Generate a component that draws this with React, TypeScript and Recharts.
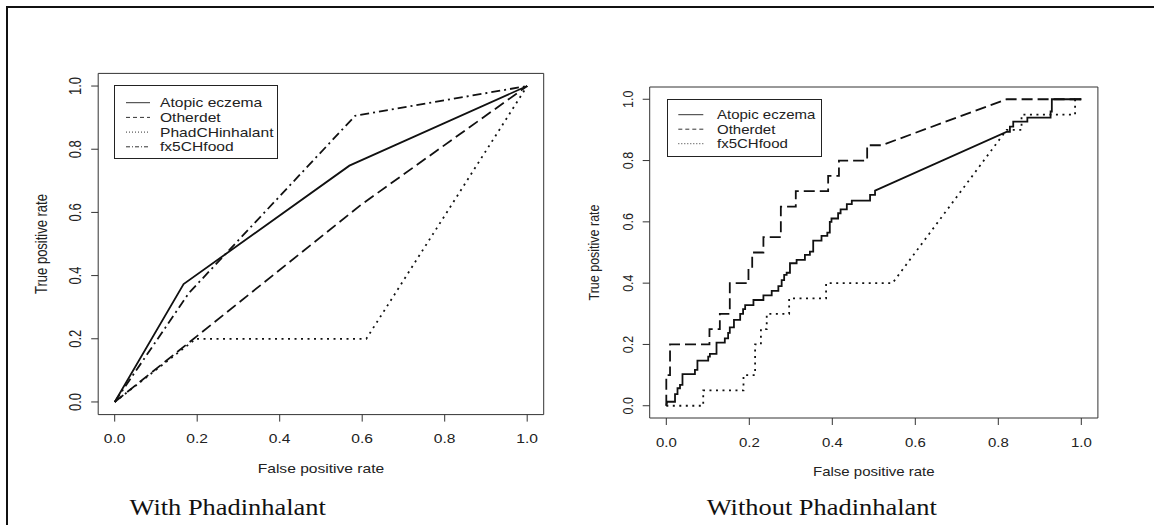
import React from "react";
import { LineChart, Line, XAxis, YAxis, ReferenceArea, Legend } from "recharts";

const SANS = "'Liberation Sans', Arial, Helvetica, sans-serif";
const SERIF = "'Liberation Serif', 'Times New Roman', serif";
const INK = "#111";
const TEXT = "#222";

// shared axis setup (R pads the range by 4% on each side)
const tickValues = [0, 0.2, 0.4, 0.6, 0.8, 1];
const axisDomain: [number, number] = [-0.04, 1.04];

// ---- With Phadinhalant: [false positive rate, true positive rate] ----
const withAtopic: [number, number][] = [[0, 0], [0.167, 0.373], [0.569, 0.748], [1, 1]];
const withOtherdet: [number, number][] = [[0, 0], [0.597, 0.624], [1, 1]];
const withPhad: [number, number][] = [[0, 0], [0.197, 0.2], [0.61, 0.2], [1, 1]];
const withFood: [number, number][] = [[0, 0], [0.18, 0.345], [0.583, 0.906], [1, 1]];

// ---- Without Phadinhalant ----
const woAtopic: [number, number][] = [
  [0, 0], [0.002, 0.013], [0.021, 0.013], [0.021, 0.038], [0.027, 0.038], [0.027, 0.057],
  [0.033, 0.057], [0.033, 0.068], [0.039, 0.068], [0.039, 0.103], [0.069, 0.103], [0.069, 0.117],
  [0.075, 0.117], [0.075, 0.147], [0.101, 0.147], [0.101, 0.16], [0.105, 0.16], [0.105, 0.169],
  [0.121, 0.169], [0.121, 0.206], [0.141, 0.206], [0.141, 0.22], [0.149, 0.22], [0.149, 0.238],
  [0.153, 0.238], [0.153, 0.256], [0.163, 0.256], [0.163, 0.28], [0.178, 0.28], [0.178, 0.3],
  [0.185, 0.3], [0.185, 0.315], [0.19, 0.315], [0.19, 0.328], [0.21, 0.328], [0.21, 0.345],
  [0.234, 0.345], [0.234, 0.36], [0.254, 0.36], [0.254, 0.375], [0.27, 0.375], [0.27, 0.39],
  [0.278, 0.39], [0.278, 0.41], [0.284, 0.41], [0.284, 0.427], [0.29, 0.427], [0.29, 0.434],
  [0.298, 0.434], [0.298, 0.465], [0.314, 0.465], [0.314, 0.476], [0.334, 0.476], [0.334, 0.492],
  [0.346, 0.492], [0.346, 0.503], [0.354, 0.503], [0.354, 0.539], [0.374, 0.539], [0.374, 0.554],
  [0.388, 0.554], [0.388, 0.565], [0.394, 0.565], [0.394, 0.6], [0.398, 0.6], [0.398, 0.611],
  [0.414, 0.611], [0.414, 0.628], [0.42, 0.628], [0.42, 0.641], [0.435, 0.641], [0.435, 0.658],
  [0.447, 0.658], [0.447, 0.669], [0.491, 0.669], [0.491, 0.688], [0.503, 0.688], [0.503, 0.702],
  [0.821, 0.894], [0.828, 0.894], [0.828, 0.911], [0.836, 0.911], [0.836, 0.927], [0.87, 0.927],
  [0.87, 0.94], [0.926, 0.94], [0.926, 0.96], [0.929, 0.96], [0.929, 1], [1, 1],
];
const woOtherdet: [number, number][] = [
  [0, 0], [0, 0.1], [0.009, 0.1], [0.009, 0.2], [0.104, 0.2], [0.104, 0.25], [0.129, 0.25],
  [0.129, 0.3], [0.153, 0.3], [0.153, 0.4], [0.198, 0.4], [0.198, 0.45], [0.207, 0.45],
  [0.207, 0.5], [0.234, 0.5], [0.234, 0.55], [0.276, 0.55], [0.276, 0.65], [0.312, 0.65],
  [0.312, 0.7], [0.39, 0.7], [0.39, 0.75], [0.416, 0.75], [0.416, 0.8], [0.484, 0.8],
  [0.484, 0.85], [0.519, 0.85], [0.82, 1], [1, 1],
];
const woFood: [number, number][] = [
  [0, 0], [0.089, 0], [0.089, 0.05], [0.186, 0.05], [0.186, 0.1], [0.214, 0.1], [0.214, 0.2],
  [0.228, 0.2], [0.228, 0.25], [0.242, 0.25], [0.242, 0.3], [0.296, 0.3], [0.296, 0.35],
  [0.385, 0.35], [0.385, 0.4], [0.545, 0.4], [0.82, 0.9], [0.856, 0.9], [0.856, 0.95],
  [0.985, 0.95], [0.985, 1], [1, 1],
];

type Series = { name: string; pts: [number, number][]; dash?: string; legendDash?: string };

const SOLID = undefined;
const DASHED = "11 5";
const DOTTED = "2 4.5";
const DASHDOT = "9 4 2 4";

const withSeries: Series[] = [
  { name: "Atopic eczema", pts: withAtopic, dash: SOLID },
  { name: "Otherdet", pts: withOtherdet, dash: DASHED, legendDash: "4 3" },
  { name: "PhadCHinhalant", pts: withPhad, dash: DOTTED, legendDash: "1 2" },
  { name: "fx5CHfood", pts: withFood, dash: DASHDOT, legendDash: "4 2 1 2" },
];
const woSeries: Series[] = [
  { name: "Atopic eczema", pts: woAtopic, dash: SOLID },
  { name: "Otherdet", pts: woOtherdet, dash: DASHED, legendDash: "4 3" },
  { name: "fx5CHfood", pts: woFood, dash: DOTTED, legendDash: "1 2" },
];

const toRows = (pts: [number, number][]) => pts.map(([x, y]) => ({ x, y }));

type Geo = {
  left: number; width: number;
  plotLeft: number; plotTop: number; plotRight: number; plotBottom: number;
  fs: number; sx: number;
  legend: { x: number; y: number; w: number; h: number; row0: number; gap: number; s0: number; s1: number; tx: number };
};

function LegendBox({ g, series }: { g: Geo; series: Series[] }) {
  const lg = g.legend;
  return (
    <svg width={lg.w + 1} height={lg.h + 1} style={{ display: "block" }}>
      <rect x={0.5} y={0.5} width={lg.w - 1} height={lg.h - 1} fill="#fff" stroke="#222" strokeWidth={1} />
      {series.map((s, i) => {
        const cy = lg.row0 + i * lg.gap;
        return (
          <g key={s.name}>
            <line x1={lg.s0} x2={lg.s1} y1={cy} y2={cy} stroke="#333" strokeWidth={1} strokeDasharray={s.legendDash} />
            <text transform={`translate(${lg.tx},${cy + 4.6}) scale(${g.sx},1)`} fontSize={g.fs} fontFamily={SANS} fill={TEXT}>
              {s.name}
            </text>
          </g>
        );
      })}
    </svg>
  );
}

function Panel({ g, series }: { g: Geo; series: Series[] }) {
  const H = 525;
  const xTick = (p: any) => (
    <text transform={`translate(${p.x},${p.y + 19.5}) scale(${g.sx},1)`} textAnchor="middle" fontSize={g.fs} fontFamily={SANS} fill={TEXT}>
      {Number(p.payload.value).toFixed(1)}
    </text>
  );
  const yTick = (p: any) => (
    <text transform={`translate(${p.x - 8},${p.y}) rotate(-90) scale(1,${g.sx})`} textAnchor="middle" fontSize={g.fs} fontFamily={SANS} fill={TEXT}>
      {Number(p.payload.value).toFixed(1)}
    </text>
  );
  const xTitle = () => (
    <text transform={`translate(${(g.plotLeft + g.plotRight) / 2},${g.plotBottom + 58.3}) scale(${g.sx},1)`} textAnchor="middle" fontSize={g.fs} fontFamily={SANS} fill={TEXT}>
      False positive rate
    </text>
  );
  const yTitle = () => (
    <text transform={`translate(${g.plotLeft - 51},${(g.plotTop + g.plotBottom) / 2}) rotate(-90) scale(1,${g.sx})`} textAnchor="middle" fontSize={g.fs} fontFamily={SANS} fill={TEXT}>
      True positive rate
    </text>
  );
  return (
    <div style={{ position: "absolute", left: g.left, top: 0 }}>
      <LineChart
        width={g.width}
        height={H}
        margin={{ top: g.plotTop, right: g.width - g.plotRight, bottom: 0, left: 0 }}
      >
        <XAxis
          type="number"
          dataKey="x"
          domain={axisDomain}
          ticks={tickValues}
          allowDataOverflow
          interval={0}
          axisLine={false}
          tickSize={7}
          tickLine={{ stroke: "#333" }}
          tick={xTick}
          height={H - g.plotBottom}
          label={xTitle}
        />
        <YAxis
          type="number"
          dataKey="y"
          domain={axisDomain}
          ticks={tickValues}
          allowDataOverflow
          interval={0}
          axisLine={false}
          tickSize={7}
          tickLine={{ stroke: "#333" }}
          tick={yTick}
          width={g.plotLeft}
          label={yTitle}
        />
        <ReferenceArea x1={-0.04} x2={1.04} y1={-0.04} y2={1.04} fill="none" stroke="#333" strokeWidth={1} ifOverflow="visible" />
        {series.map((s) => (
          <Line
            key={s.name}
            data={toRows(s.pts)}
            dataKey="y"
            name={s.name}
            type="linear"
            stroke={INK}
            strokeWidth={1.8}
            strokeDasharray={s.dash}
            dot={false}
            activeDot={false}
            isAnimationActive={false}
          />
        ))}
        <Legend
          verticalAlign="middle"
          align="center"
          layout="horizontal"
          content={() => <LegendBox g={g} series={series} />}
          wrapperStyle={{ position: "absolute", left: g.legend.x, top: g.legend.y, width: g.legend.w + 1, height: g.legend.h + 1, margin: 0, padding: 0, lineHeight: 0 }}
        />
      </LineChart>
    </div>
  );
}

const leftGeo: Geo = {
  left: 0, width: 560,
  plotLeft: 98.2, plotTop: 73.4, plotRight: 543.7, plotBottom: 414.6,
  fs: 13, sx: 1.2,
  legend: { x: 114, y: 85, w: 164, h: 74, row0: 17.7, gap: 14.7, s0: 12, s1: 36, tx: 46 },
};
const rightGeo: Geo = {
  left: 560, width: 594,
  plotLeft: 89.7, plotTop: 87, plotRight: 537.9, plotBottom: 418,
  fs: 12.5, sx: 1.2,
  legend: { x: 106.7, y: 99.3, w: 155, h: 58, row0: 15.7, gap: 14.5, s0: 11.3, s1: 36.3, tx: 50 },
};

export default function App() {
  return (
    <div style={{ position: "absolute", left: 0, top: 0, width: 1154, height: 525, background: "#fff", overflow: "hidden" }}>
      <Panel g={leftGeo} series={withSeries} />
      <Panel g={rightGeo} series={woSeries} />
      <svg width={1154} height={525} style={{ position: "absolute", left: 0, top: 0, pointerEvents: "none" }}>
        <line x1={7} y1={7} x2={1154} y2={7} stroke={INK} strokeWidth={2} />
        <line x1={7} y1={6} x2={7} y2={525} stroke={INK} strokeWidth={2} />
        <text transform="translate(129.5,515) scale(1.15,1)" fontSize={23} fontFamily={SERIF} fill={INK}>
          With Phadinhalant
        </text>
        <text transform="translate(706.7,515) scale(1.15,1)" fontSize={23} fontFamily={SERIF} fill={INK}>
          Without Phadinhalant
        </text>
      </svg>
    </div>
  );
}
